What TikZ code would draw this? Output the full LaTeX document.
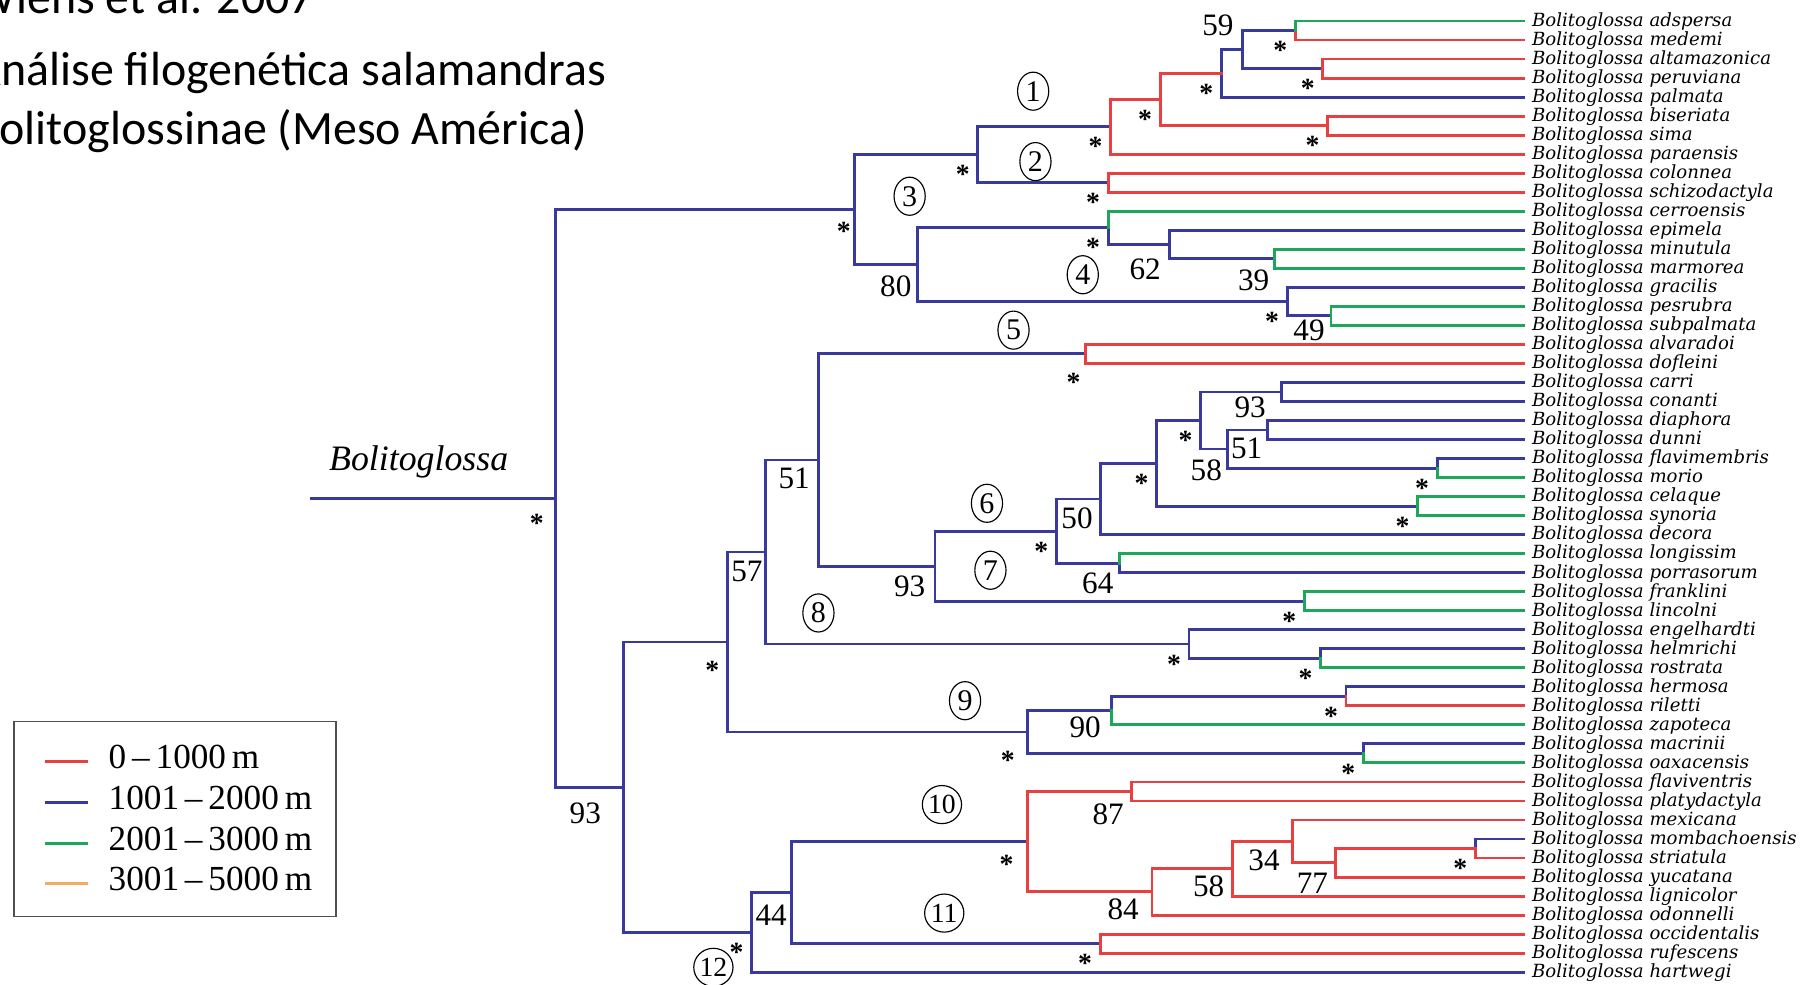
\documentclass[tikz,border=0pt]{standalone}
\usepackage{fontspec}
\setmainfont{Liberation Serif}
\newfontfamily\titlefont{Carlito}
\newfontfamily\leaffont{DejaVu Serif}
\usetikzlibrary{shapes.geometric,calc}
\definecolor{cR}{RGB}{232,64,64}
\definecolor{cB}{RGB}{58,58,158}
\definecolor{cG}{RGB}{28,168,88}
\definecolor{cO}{RGB}{246,172,96}
\definecolor{frame}{RGB}{80,80,80}
\begin{document}
\begin{tikzpicture}[x=1pt,y=-1pt,
  br/.style={line width=2.5pt,line cap=rect,line join=miter},
  brB/.style={br,draw=cB}, brR/.style={br,draw=cR}, brG/.style={br,draw=cG},
  leaf/.style={anchor=base west,inner sep=0pt,font=\leaffont\itshape\fontsize{15.7}{18}\selectfont},
  ast/.style={anchor=base,inner sep=0pt,yshift=-11.2pt,font=\bfseries\fontsize{24}{24}\selectfont},
  bs/.style={inner sep=0pt,font=\fontsize{27}{27}\selectfont},
  circ/.style={draw,ellipse,line width=1pt,inner sep=0pt,minimum width=27pt,minimum height=33pt,font=\fontsize{26}{26}\selectfont},
  circw/.style={circ,minimum width=34pt,font=\fontsize{24}{24}\selectfont},
  title/.style={anchor=base west,inner sep=0pt,font=\titlefont\fontsize{41.5}{41.5}\selectfont},
  legtext/.style={anchor=base west,inner sep=0pt,font=\fontsize{30.5}{30.5}\selectfont},
  legline/.style={line width=2.4pt}
]
\useasboundingbox (0,0) rectangle (1568,853);
\clip (0,0) rectangle (1568,853);

% ---- heading ----
\node[title] (h1) at (-23,12) {Wiens et al. 2007};
\node[title] (h2) at (-23,74) {Análise filogenética salamandras};
\node[title] (h3) at (-23,125) {Bolitoglossinae (Meso América)};

% ---- leaves ----
\foreach \sp [count=\i from 0] in {adspersa,medemi,altamazonica,peruviana,palmata,biseriata,sima,paraensis,colonnea,schizodactyla,cerroensis,epimela,minutula,marmorea,gracilis,pesrubra,subpalmata,alvaradoi,dofleini,carri,conanti,diaphora,dunni,flavimembris,morio,celaque,synoria,decora,longissim,porrasorum,franklini,lincolni,engelhardti,helmrichi,rostrata,hermosa,riletti,zapoteca,macrinii,oaxacensis,flaviventris,platydactyla,mexicana,mombachoensis,striatula,yucatana,lignicolor,odonnelli,occidentalis,rufescens,hartwegi}{
  \coordinate (L\i) at (1320,{18.2+16.48*\i});
  \node[leaf] (T\i) at (1327,{22.8+16.48*\i}) {Bolitoglossa \sp};
}

% ---- internal nodes ----
\coordinate (nAM) at (1122,26.44);
\coordinate (nAP) at (1146,59.40);
\coordinate (n59) at (1076,42.92);
\coordinate (nPA) at (1058,63.52);
\coordinate (nBS) at (1150,108.84);
\coordinate (n1A) at (1005,86.18);
\coordinate (n1)  at (962,109.87);
\coordinate (nCS) at (960,158.28);
\coordinate (n12) at (847,134.08);
\coordinate (nMM) at (1104,224.2);
\coordinate (n62) at (1013,211.84);
\coordinate (n4)  at (960,197.42);
\coordinate (nPS) at (1153,273.64);
\coordinate (nG)  at (1115,261.28);
\coordinate (n80) at (795,229.35);
\coordinate (n3)  at (740,181.72);
\coordinate (nAD) at (940,306.6);
\coordinate (nCC) at (1110,339.56);
\coordinate (nDD) at (1098,372.52);
\coordinate (nFM) at (1245,405.48);
\coordinate (n58A) at (1063,389.0);
\coordinate (n93B) at (1040,364.28);
\coordinate (nCY) at (1228,438.44);
\coordinate (nD)  at (1002,401.36);
\coordinate (n50) at (953,432.26);
\coordinate (nLP) at (970,487.88);
\coordinate (n67) at (915,460.07);
\coordinate (nFL) at (1130,520.84);
\coordinate (n93C) at (810,490.46);
\coordinate (n51B) at (709,398.53);
\coordinate (nEH) at (1144,570.28);
\coordinate (nE)  at (1030,557.92);
\coordinate (n57) at (663,478.23);
\coordinate (nHR) at (1166,603.24);
\coordinate (n90) at (963,615.6);
\coordinate (nMO) at (1181,652.68);
\coordinate (n9)  at (890,634.14);
\coordinate (nS)  at (630,556.19);
\coordinate (nFP) at (980,685.64);
\coordinate (nMS) at (1278,735.08);
\coordinate (n77) at (1157,747.44);
\coordinate (n34) at (1120,728.9);
\coordinate (n58B) at (1068,752.59);
\coordinate (n84) at (998,772.68);
\coordinate (n10) at (890,729.16);
\coordinate (nOR) at (953,817.48);
\coordinate (n44) at (686,773.32);
\coordinate (n12C) at (651,807.76);
\coordinate (n93R) at (540,681.98);
\coordinate (root) at (481,431.85);
\coordinate (stem) at (270,431.85);

% ---- branches, 1001-2000 m ----
\draw[brB] (stem) -- (root);
\draw[brB] (root) |- (n3)  (root) |- (n93R)
  (n3) |- (n12)  (n3) |- (n80)
  (n12) |- (n1)  (n12) |- (nCS)
  (nPA) |- (n59) (nPA) |- (L4)
  (n59) |- (nAM) (n59) |- (nAP)
  (n80) |- (n4)  (n80) |- (nG)
  (n4) |- (n62)
  (n62) |- (L11) (n62) |- (nMM)
  (nG) |- (L14)  (nG) |- (nPS)
  (n93R) |- (nS) (n93R) |- (n12C)
  (nS) |- (n57)  (nS) |- (n9)
  (n57) |- (n51B) (n57) |- (nE)
  (n51B) |- (nAD) (n51B) |- (n93C)
  (n93C) |- (n67) (n93C) |- (nFL)
  (n67) |- (n50) (n67) |- (nLP)
  (n50) |- (nD)  (n50) |- (L27)
  (nD) |- (n93B) (nD) |- (nCY)
  (n93B) |- (nCC) (n93B) |- (n58A)
  (nCC) |- (L19) (nCC) |- (L20)
  (n58A) |- (nDD) (n58A) |- (nFM)
  (nDD) |- (L21) (nDD) |- (L22)
  (nFM) |- (L23)
  (nLP) |- (L29)
  (nE) |- (L32)  (nE) |- (nEH)
  (nEH) |- (L33)
  (n9) |- (n90)  (n9) |- (nMO)
  (n90) |- (nHR)
  (nHR) |- (L35)
  (nMO) |- (L38)
  (n12C) |- (n44) (n12C) |- (L50)
  (n44) |- (n10) (n44) |- (nOR)
  (nMS) |- (L43);

% ---- branches, 0-1000 m ----
\draw[brR] (n1) |- (n1A)  (n1) |- (L7)
  (n1A) |- (nPA) (n1A) |- (nBS)
  (nAM) |- (L1)
  (nAP) |- (L2)  (nAP) |- (L3)
  (nBS) |- (L5)  (nBS) |- (L6)
  (nCS) |- (L8)  (nCS) |- (L9)
  (nAD) |- (L17) (nAD) |- (L18)
  (nHR) |- (L36)
  (n10) |- (nFP) (n10) |- (n84)
  (nFP) |- (L40) (nFP) |- (L41)
  (n84) |- (n58B) (n84) |- (L47)
  (n58B) |- (n34) (n58B) |- (L46)
  (n34) |- (L42) (n34) |- (n77)
  (n77) |- (nMS) (n77) |- (L45)
  (nMS) |- (L44)
  (nOR) |- (L48) (nOR) |- (L49);

% ---- branches, 2001-3000 m ----
\draw[brG] (nAM) |- (L0)
  (n4) |- (L10)
  (nMM) |- (L12) (nMM) |- (L13)
  (nPS) |- (L15) (nPS) |- (L16)
  (nFM) |- (L24)
  (nCY) |- (L25) (nCY) |- (L26)
  (nLP) |- (L28)
  (nFL) |- (L30) (nFL) |- (L31)
  (nEH) |- (L34)
  (n90) |- (L37)
  (nMO) |- (L39);

% ---- genus label ----
\node[anchor=base west,inner sep=0pt,font=\itshape\fontsize{31}{31}\selectfont] (genus) at (285,408) {Bolitoglossa};

% ---- strongly supported nodes ----
\foreach \n in {nAM,nAP,nPA,nBS,n1A,n1,nCS,n12,n4,nG,n93B,nD,nFM,nCY,n67,nFL,nE,nEH,nHR,nMO,nMS,nOR,n12C}{
  \node[ast] (s\n) at ($(\n)+(-13,14)$) {*};
}
\node[ast] (sn3)   at ($(n3)+(-9,15)$) {*};
\node[ast] (sroot) at ($(root)+(-16,18)$) {*};
\node[ast] (snAD)  at ($(nAD)+(-10,21)$) {*};
\node[ast] (sn9)   at ($(n9)+(-17,21)$) {*};
\node[ast] (snS)   at ($(nS)+(-13,21)$) {*};
\node[ast] (sn10)  at ($(n10)+(-18,16)$) {*};

% ---- bootstrap values ----
\node[bs] (b59)  at (1055,22)  {59};
\node[bs] (b39)  at (1086,243) {39};
\node[bs] (b62)  at (992,233)  {62};
\node[bs] (b49)  at (1134,286) {49};
\node[bs] (b80)  at (776,248)  {80};
\node[bs] (b93a) at (1083,353) {93};
\node[bs] (b51a) at (1080,388) {51};
\node[bs] (b58a) at (1045,407) {58};
\node[bs] (b50)  at (933,449)  {50};
\node[bs] (b64)  at (951,505)  {64};
\node[bs] (b93b) at (788,508)  {93};
\node[bs] (b51b) at (688,414)  {51};
\node[bs] (b57)  at (647,495)  {57};
\node[bs] (b90)  at (940,630)  {90};
\node[bs] (b87)  at (960,705)  {87};
\node[bs] (b77)  at (1137,765) {77};
\node[bs] (b34)  at (1095,745) {34};
\node[bs] (b58b) at (1047,768) {58};
\node[bs] (b84)  at (973,788)  {84};
\node[bs] (b44)  at (668,793)  {44};
\node[bs] (b93c) at (507,705)  {93};

% ---- clade numbers ----
\node[circ] (c1) at (895,79)  {1};
\node[circ] (c2) at (897,140) {2};
\node[circ] (c3) at (788,170) {3};
\node[circ] (c4) at (938,238) {4};
\node[circ] (c5) at (878,286) {5};
\node[circ] (c6) at (855,436) {6};
\node[circ] (c7) at (858,494) {7};
\node[circ] (c8) at (709,531) {8};
\node[circ] (c9) at (836,607) {9};
\node[circw] (c10) at (816,697) {10};
\node[circw] (c11) at (818,791) {11};
\node[circw] (c12) at (618,838) {12};

% ---- elevation key ----
\draw[frame,line width=1.6pt] (12,625) rectangle (291,794);
\draw[legline,cR] (39,660) -- (76,660);
\draw[legline,cB] (39,695) -- (76,695);
\draw[legline,cG] (39,730.4) -- (76,730.4);
\draw[legline,cO] (39,765.6) -- (76,765.6);
\node[legtext] (k1) at (94,666)   {0\,–\,1000\,m};
\node[legtext] (k2) at (94,701)   {1001\,–\,2000\,m};
\node[legtext] (k3) at (94,736.4) {2001\,–\,3000\,m};
\node[legtext] (k4) at (94,771.6) {3001\,–\,5000\,m};
\end{tikzpicture}
\end{document}
